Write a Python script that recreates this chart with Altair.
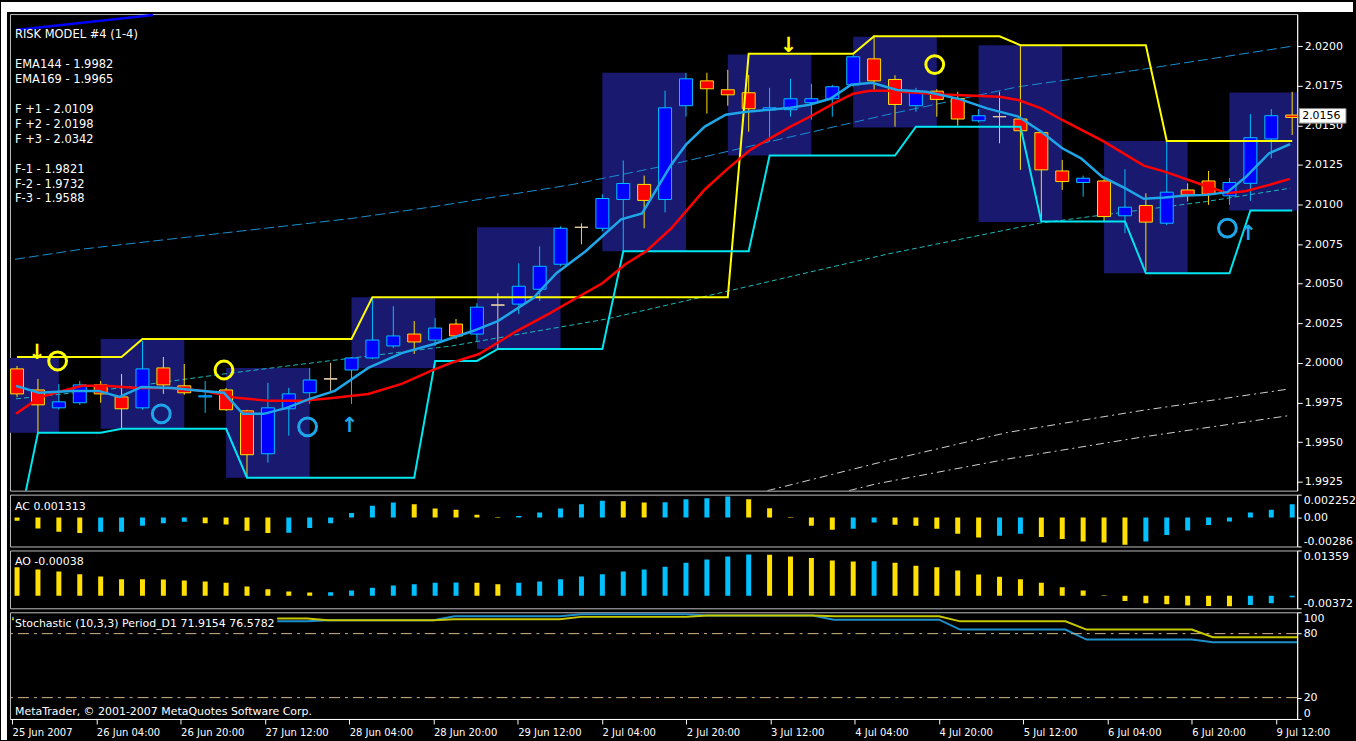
import json
import altair as alt
import pandas as pd

# ------------------------------------------------------------------ data
BARS = list(range(62))
OPEN = [1.99962, 1.99829, 1.99716, 1.99748, 1.99861, 1.99785, 1.99716, 1.99968, 1.99855, 1.99785,
        1.99829, 1.99697, 1.99426, 1.99710, 1.99811, 1.99899, 1.99955, 2.00031, 2.00107, 2.00182,
        2.00144, 2.00245, 2.00182, 2.00365, 2.00371, 2.00465, 2.00623, 2.00856, 2.00850, 2.01032,
        2.01127, 2.01032, 2.01624, 2.01781, 2.01725, 2.01706, 2.01599, 2.01599, 2.01643, 2.01668,
        2.01756, 2.01920, 2.01790, 2.01624, 2.01716, 2.01670, 2.01529, 2.01555, 2.01540, 2.01454,
        2.01212, 2.01139, 2.01149, 2.00929, 2.00994, 2.00882, 2.01092, 2.01149, 2.01055, 2.01134,
        2.01414, 2.01565]
HIGH = [1.99981, 1.99899, 1.99867, 1.99886, 1.99886, 1.99930, 2.00138, 2.00037, 1.99993, 1.99886,
        1.99842, 1.99704, 1.99874, 1.99842, 1.99968, 2.00000, 2.00035, 2.00415, 2.00358, 2.00264,
        2.00283, 2.00277, 2.00377, 2.00440, 2.00629, 2.00736, 2.00862, 2.00881, 2.01064, 2.01278,
        2.01183, 2.01719, 2.01832, 2.01832, 2.01851, 2.01819, 2.01737, 2.01794, 2.01763, 2.01756,
        2.01945, 2.02059, 2.01817, 2.01737, 2.01729, 2.01712, 2.01603, 2.01712, 2.02006, 2.01460,
        2.01282, 2.01183, 2.01160, 2.01223, 2.01071, 2.01408, 2.01134, 2.01212, 2.01166, 2.01571,
        2.01603, 2.01712]
LOW = [1.99785, 1.99559, 1.99704, 1.99735, 1.99748, 1.99584, 1.99704, 1.99804, 1.99798, 1.99685,
       1.99697, 1.99275, 1.99370, 1.99540, 1.99741, 1.99823, 1.99741, 2.00024, 2.00094, 2.00056,
       2.00107, 2.00151, 2.00138, 2.00088, 2.00308, 2.00390, 2.00610, 2.00749, 2.00831, 2.00705,
       2.00850, 2.00950, 2.01555, 2.01574, 2.01624, 2.01460, 2.01397, 2.01555, 2.01536, 2.01555,
       2.01744, 2.01725, 2.01492, 2.01586, 2.01555, 2.01498, 2.01519, 2.01387, 2.01219, 2.00893,
       2.01092, 2.01050, 2.00893, 2.00819, 2.00580, 2.00870, 2.01019, 2.00998, 2.00998, 2.01023,
       2.01292, 2.01439]
CLOSE = [1.99804, 1.99735, 1.99754, 1.99861, 1.99804, 1.99710, 1.99962, 1.99861, 1.99811, 1.99792,
         1.99704, 1.99420, 1.99716, 1.99804, 1.99892, 1.99899, 2.00031, 2.00144, 2.00170, 2.00132,
         2.00220, 2.00170, 2.00352, 2.00365, 2.00484, 2.00610, 2.00850, 2.00856, 2.01038, 2.01133,
         2.01026, 2.01611, 2.01794, 2.01731, 2.01693, 2.01605, 2.01611, 2.01668, 2.01668, 2.01744,
         2.01933, 2.01781, 2.01632, 2.01712, 2.01664, 2.01540, 2.01561, 2.01555, 2.01466, 2.01219,
         2.01145, 2.01166, 2.00924, 2.00983, 2.00889, 2.01078, 2.01061, 2.01065, 2.01139, 2.01422,
         2.01561, 2.01550]

BOX_START = [-2, 4, 10, 16, 22, 28, 34, 40, 46, 52, 58]
BOX_END = [2, 8, 14, 20, 26, 32, 38, 44, 50, 56, 62]
BOX_TOP = [2.00030, 2.00151, 1.99968, 2.00415, 2.00856, 2.01832, 2.01948, 2.02059, 2.02006, 2.01401, 2.01708]
BOX_BOTTOM = [1.99559, 1.99584, 1.99275, 1.99968, 2.00088, 2.00705, 2.01309, 2.01487, 2.00889, 2.00566, 2.00962]

# upper (yellow) and lower (cyan) channel, one value per bar
UPPER_CH = [2.00037, 2.00037, 2.00037, 2.00037, 2.00037, 2.00037,
            2.00151, 2.00151, 2.00151, 2.00151, 2.00151, 2.00151, 2.00151, 2.00151, 2.00151, 2.00151, 2.00151,
            2.00415, 2.00415, 2.00415, 2.00415, 2.00415, 2.00415, 2.00415, 2.00415, 2.00415, 2.00415,
            2.00415, 2.00415, 2.00415, 2.00415, 2.00415, 2.00415, 2.00415, 2.00415,
            2.01952, 2.01952, 2.01952, 2.01952, 2.01952, 2.01952,
            2.02063, 2.02063, 2.02063, 2.02063, 2.02063, 2.02063, 2.02063,
            2.02006, 2.02006, 2.02006, 2.02006, 2.02006, 2.02006, 2.02006,
            2.01401, 2.01401, 2.01401, 2.01401, 2.01401, 2.01401, 2.01401]
LOWER_CH = [1.98923,
            1.99559, 1.99559, 1.99559, 1.99559,
            1.99584, 1.99584, 1.99584, 1.99584, 1.99584, 1.99584,
            1.99275, 1.99275, 1.99275, 1.99275, 1.99275, 1.99275, 1.99275, 1.99275, 1.99275,
            2.00012, 2.00012, 2.00012,
            2.00088, 2.00088, 2.00088, 2.00088, 2.00088, 2.00088,
            2.00705, 2.00705, 2.00705, 2.00705, 2.00705, 2.00705, 2.00705,
            2.01309, 2.01309, 2.01309, 2.01309, 2.01309, 2.01309, 2.01309,
            2.01492, 2.01492, 2.01492, 2.01492, 2.01492, 2.01492,
            2.00893, 2.00893, 2.00893, 2.00893, 2.00893,
            2.00566, 2.00566, 2.00566, 2.00566, 2.00566,
            2.00962, 2.00962, 2.00962]

FAST_BAR = [-0.05, 1.04, 2.65, 3.9, 4.9, 5.96, 7.4, 8.9, 9.9, 10.8, 11.8, 12.9, 14.0, 15.2, 16.8, 18.4,
            19.95, 21.8, 23.0, 24.7, 25.8, 27.2, 28.9, 29.9, 31.3, 32.0, 32.9, 33.9, 34.9, 36.0, 37.0,
            37.9, 38.9, 39.9, 40.9, 42.1, 43.5, 45.1, 46.4, 47.9, 49.0, 50.0, 50.9, 51.9, 53.0, 53.9,
            54.9, 55.9, 56.9, 57.9, 58.8, 59.9, 60.9]
FAST_VAL = [1.99855, 1.99811, 1.99823, 1.99823, 1.99785, 1.99848, 1.99842, 1.99823, 1.99811, 1.99678,
            1.99678, 1.99716, 1.99773, 1.99823, 1.99968, 2.00062, 2.00119, 2.00201, 2.00264, 2.00409,
            2.00566, 2.00705, 2.00906, 2.00944, 2.01253, 2.01378, 2.01492, 2.01567, 2.01586, 2.01599,
            2.01611, 2.01630, 2.01668, 2.01756, 2.01769, 2.01723, 2.01712, 2.01666, 2.01607, 2.01555,
            2.01460, 2.01355, 2.01292, 2.01176, 2.01103, 2.01036, 2.01044, 2.01057, 2.01061, 2.01078,
            2.01176, 2.01324, 2.01382]
SLOW_BAR = [-0.05, 1.04, 1.84, 3.12, 4.2, 5.77, 7.38, 8.94, 10.5, 12.1, 13.66, 15.2, 16.8, 18.4, 19.8,
            20.76, 22.1, 23.9, 25.5, 26.9, 28.0, 29.1, 30.1, 31.3, 32.9, 34.0, 35.1, 36.0, 37.0, 38.1,
            39.05, 40.0, 40.8, 41.6, 44.3, 47.0, 47.9, 49.0, 50.0, 52.0, 53.9, 54.9, 56.8, 57.9, 58.8,
            59.9, 60.9]
SLOW_VAL = [1.99678, 1.99779, 1.99811, 1.99855, 1.99855, 1.99842, 1.99842, 1.99823, 1.99779, 1.99760,
            1.99760, 1.99779, 1.99804, 1.99867, 1.99949, 2.00000, 2.00056, 2.00201, 2.00314, 2.00421,
            2.00503, 2.00623, 2.00705, 2.00850, 2.01095, 2.01227, 2.01347, 2.01416, 2.01492, 2.01567,
            2.01637, 2.01700, 2.01719, 2.01719, 2.01695, 2.01681, 2.01660, 2.01607, 2.01534, 2.01397,
            2.01246, 2.01208, 2.01120, 2.01071, 2.01086, 2.01124, 2.01162]
LONG_BAR = [-0.1, 3.1, 16.0, 20.3, 26.6, 31.3, 36.0, 41.6, 47.9, 54.1, 61.0]
LONG_VAL = [2.00654, 2.00718, 2.00912, 2.00994, 2.01127, 2.01253, 2.01397, 2.01567, 2.01744, 2.01859, 2.02000]
DOT_BAR = [-0.05, 5.0, 9.9, 13.7, 16.8, 20.8, 28.2, 34.0, 41.6, 48.9, 56.9, 60.9]
DOT_VAL = [1.99773, 1.99842, 1.99930, 1.99993, 2.00043, 2.00107, 2.00277, 2.00453, 2.00686, 2.00882, 2.01019, 2.01103]
EMA144_BAR = [35.9, 41.6, 47.4, 53.7, 60.8]
EMA144_VAL = [1.99193, 1.99382, 1.99561, 1.99697, 1.99834]
EMA169_BAR = [39.8, 41.1, 47.4, 53.7, 60.8]
EMA169_VAL = [1.99193, 1.99236, 1.99393, 1.99529, 1.99666]
TOPLINE_BAR = [-0.05, 6.5]
TOPLINE_VAL = [2.02103, 2.02197]

CIRCLE_BAR = [1.94, 6.9, 9.9, 13.9, 43.9, 57.9]
CIRCLE_VAL = [2.00012, 1.99678, 1.99955, 1.99596, 2.01884, 2.00851]
CIRCLE_COL = ["y", "c", "y", "c", "y", "c"]
ARROW_BAR = [0.95, 15.9, 36.9, 58.9]
ARROW_VAL = [2.00062, 1.99600, 2.01999, 2.00811]
ARROW_DIR = ["down", "up", "down", "up"]

LAST_PRICE = 2.0156
PRICE_TICKS = [1.9925, 1.9950, 1.9975, 2.0000, 2.0025, 2.0050, 2.0075, 2.0100, 2.0125, 2.0150, 2.0175, 2.0200]
INFO_ROW = [0, 2, 3, 5, 6, 7, 9, 10, 11]
INFO_TEXT = ["RISK MODEL #4 (1-4)", "EMA144 - 1.9982", "EMA169 - 1.9965",
             "F +1 - 2.0109", "F +2 - 2.0198", "F +3 - 2.0342",
             "F-1 - 1.9821", "F-2 - 1.9732", "F-3 - 1.9588"]

AC_VALS = [-0.00033, -0.00108, -0.00141, -0.00154, -0.00141, -0.00140, -0.00082, -0.00056, -0.00043, -0.00056,
           -0.00069, -0.00131, -0.00154, -0.00150, -0.00105, -0.00056, 0.00043, 0.00115, 0.00147, 0.00131,
           0.00088, 0.00075, 0.00026, -0.00005, 0.00015, 0.00049, 0.00088, 0.00131, 0.00164, 0.00160,
           0.00147, 0.00150, 0.00180, 0.00190, 0.00206, 0.00180, 0.00092, -0.00005, -0.00082, -0.00121,
           -0.00111, -0.00049, -0.00072, -0.00082, -0.00111, -0.00160, -0.00197, -0.00180, -0.00160, -0.00193,
           -0.00213, -0.00236, -0.00246, -0.00269, -0.00236, -0.00174, -0.00128, -0.00075, -0.00039, 0.00049,
           0.00075, 0.001313]
AC_COL = ["y", "y", "y", "y", "b", "b", "b", "b", "b", "y", "y", "y", "y", "b", "b", "b", "b", "b", "b", "y",
          "y", "y", "y", "y", "b", "b", "b", "b", "b", "y", "y", "b", "b", "b", "b", "y", "y", "y", "y", "y",
          "b", "b", "y", "y", "y", "y", "y", "b", "b", "y", "y", "y", "y", "y", "b", "b", "b", "b", "b", "b",
          "b", "b"]
AO_VALS = [0.0086, 0.0079, 0.0073, 0.0065, 0.0058, 0.0050, 0.0050, 0.0049, 0.0046, 0.0043,
           0.0039, 0.0028, 0.0020, 0.0013, 0.0010, 0.0011, 0.0016, 0.0024, 0.0031, 0.0035,
           0.0039, 0.0040, 0.0039, 0.0035, 0.0039, 0.0043, 0.0050, 0.0058, 0.0065, 0.0073,
           0.0079, 0.0087, 0.0099, 0.0109, 0.0118, 0.0124, 0.0123, 0.0118, 0.0113, 0.0106,
           0.0103, 0.0104, 0.0099, 0.0090, 0.0086, 0.0076, 0.0064, 0.0057, 0.0050, 0.0039,
           0.0026, 0.0016, 0.0002, -0.0015, -0.0022, -0.0025, -0.0029, -0.0030, -0.0031, -0.0027,
           -0.0022, -0.00038]
AO_COL = ["y", "y", "y", "y", "y", "y", "y", "y", "y", "y", "y", "y", "y", "y", "y", "b", "b", "b", "b", "b",
          "b", "b", "y", "y", "b", "b", "b", "b", "b", "b", "b", "b", "b", "b", "b", "b", "y", "y", "y", "y",
          "y", "b", "y", "y", "y", "y", "y", "y", "y", "y", "y", "y", "y", "y", "y", "y", "y", "y", "y", "b",
          "b", "b"]
STOCH_MAIN = [95.0, 95.0, 95.0, 93.5, 93.5, 93.5, 93.5, 93.5, 93.5, 91.5, 91.5, 91.5, 91.5, 91.5, 91.5,
              92.5, 92.5, 92.5, 92.5, 92.5, 92.5, 96.2, 96.2, 96.2, 96.2, 96.2, 96.2,
              98.1, 98.1, 98.1, 98.1, 98.1, 98.1, 96.9, 96.9, 96.9, 96.9, 96.9, 96.9,
              93.1, 93.1, 93.1, 93.1, 93.1, 93.1, 83.8, 83.8, 83.8, 83.8, 83.8, 83.8,
              74.4, 74.4, 74.4, 74.4, 74.4, 74.4, 71.9154, 71.9154, 71.9154, 71.9154, 71.9154]
STOCH_SIGNAL = [93.4, 93.4, 93.4, 93.0, 93.0, 93.0, 93.0, 93.0, 93.0, 94.1, 94.1, 94.1, 94.1, 94.1, 94.1,
                92.5, 92.5, 92.5, 92.5, 92.5, 92.5, 93.4, 93.4, 93.4, 93.4, 93.4, 93.4,
                95.7, 95.7, 95.7, 95.7, 95.7, 95.7, 96.9, 96.9, 96.9, 96.9, 96.9, 96.9,
                96.2, 96.2, 96.2, 96.2, 96.2, 96.2, 91.5, 91.5, 91.5, 91.5, 91.5, 91.5,
                83.8, 83.8, 83.8, 83.8, 83.8, 83.8, 76.5782, 76.5782, 76.5782, 76.5782, 76.5782]
STOCH_LEVELS = [80, 20]
STOCH_TICKS = [0, 20, 80, 100]

X_TICK_BARS = [0, 4, 8, 12, 16, 20, 24, 28, 32, 36, 40, 44, 48, 52, 56, 60]
X_LABELS = ["25 Jun 2007", "26 Jun 04:00", "26 Jun 20:00", "27 Jun 12:00", "28 Jun 04:00",
            "28 Jun 20:00", "29 Jun 12:00", "2 Jul 04:00", "2 Jul 20:00", "3 Jul 12:00",
            "4 Jul 04:00", "4 Jul 20:00", "5 Jul 12:00", "6 Jul 04:00", "6 Jul 20:00", "9 Jul 12:00"]

AC_DOM = [-0.00286, 0.002252]
AC_TICK_TEXT = ["-0.00286", "0.00", "0.002252"]
AO_DOM = [-0.00372, 0.01359]
AO_TICK_TEXT = ["-0.00372", "0.01359"]

# ------------------------------------------------------------------ style
W = 1291
H_MAIN, H_AC, H_AO, H_ST = 478, 52, 58, 107
XDOM = [-0.1, 61.0]
PDOM = [1.99193, 2.02203]
FONT = "DejaVu Sans"
YEL = "#ffff00"
SKY = "#1ea6e8"
AQUA = "#00e6f0"
RED = "#ff0000"
BOX_COLOR = "#191970"
BULL_FILL, BEAR_FILL, DOJI = "#0000ff", "#ff0000", "#e0c8a8"
BULL_EDGE, BEAR_EDGE = "#00c0ff", "#ffe000"
HIST_BLUE = "#12a8e8"
KINDS = ["bull", "bear", "doji"]
AXIS_STYLE = dict(labelColor="white", tickColor="white", domainColor="white", labelFont=FONT,
                  labelFontSize=11, grid=False, title=None, labelOverlap=False)
U = alt.Undefined


def xs():
    return alt.Scale(domain=XDOM, nice=False, zero=False)


def ps():
    return alt.Scale(domain=PDOM, nice=False, zero=False)


def X(field="bar", axis=None):
    return alt.X(f"{field}:Q", scale=xs(), axis=axis, title=None)


def PY(field, axis=U):
    return alt.Y(f"{field}:Q", scale=ps(), axis=axis, title=None)


one = pd.DataFrame({"k": [0]})


def line(bars, vals, color, width, dash=None):
    df = pd.DataFrame({"bar": bars, "v": vals})
    kw = dict(color=color, strokeWidth=width, clip=True)
    if dash:
        kw["strokeDash"] = dash
    return alt.Chart(df).mark_line(**kw).encode(x=X(), y=PY("v"))


def label(text, x, y, size=11, color="white"):
    return alt.Chart(one).mark_text(align="left", baseline="middle", color=color, font=FONT,
                                    fontSize=size).encode(x=alt.value(x), y=alt.value(y), text=alt.value(text))


# ------------------------------------------------------------------ main panel
price_axis = alt.Axis(orient="right", values=PRICE_TICKS, format=".4f", tickSize=5,
                      labelPadding=2, labelFlush=False, **AXIS_STYLE)

strip_top = alt.Chart(one).mark_rect(fill="white").encode(
    x=alt.value(-9), x2=alt.value(1347), y=alt.value(-12), y2=alt.value(-2))
strip_left = alt.Chart(one).mark_rect(fill="white").encode(
    x=alt.value(-9), x2=alt.value(-3), y=alt.value(-12), y2=alt.value(728))

bdf = pd.DataFrame({"s": BOX_START, "e": BOX_END, "t": BOX_TOP, "b": BOX_BOTTOM})
boxes = alt.Chart(bdf).mark_rect(color=BOX_COLOR, clip=True).encode(
    x=X("s"), x2="e", y=PY("t", axis=price_axis), y2="b")

cdf = pd.DataFrame({"bar": BARS, "open": OPEN, "high": HIGH, "low": LOW, "close": CLOSE})
cdf["kind"] = ["bull" if c > o else ("bear" if c < o else "doji") for o, c in zip(OPEN, CLOSE)]

wicks = alt.Chart(cdf).mark_rule(clip=True, strokeWidth=1).encode(
    x=X(), y=PY("low"), y2="high",
    color=alt.Color("kind:N", scale=alt.Scale(domain=KINDS, range=[BULL_EDGE, BEAR_EDGE, DOJI]), legend=None))
bodies = alt.Chart(cdf).mark_bar(size=13, clip=True, strokeWidth=1).encode(
    x=X(), y=PY("open"), y2="close",
    fill=alt.Fill("kind:N", scale=alt.Scale(domain=KINDS, range=[BULL_FILL, BEAR_FILL, DOJI]), legend=None),
    stroke=alt.Stroke("kind:N", scale=alt.Scale(domain=KINDS, range=[BULL_EDGE, BEAR_EDGE, DOJI]), legend=None))
doji_h = alt.Chart(cdf).transform_filter("datum.kind == 'doji'").transform_calculate(
    a="datum.bar - 0.32", b="datum.bar + 0.32").mark_rule(color=DOJI, strokeWidth=1, clip=True).encode(
    x=X("a"), x2="b", y=PY("open"))

ch_df = pd.DataFrame({"bar": BARS, "u": UPPER_CH, "l": LOWER_CH})
upper = alt.Chart(ch_df).mark_line(color=YEL, strokeWidth=2, clip=True).encode(x=X(), y=PY("u"))
lower = alt.Chart(ch_df).mark_line(color=AQUA, strokeWidth=2, clip=True).encode(x=X(), y=PY("l"))

long_line = line(LONG_BAR, LONG_VAL, "#1a8fd0", 1, [10, 4])
dot_line = line(DOT_BAR, DOT_VAL, "#20b8b8", 1, [5, 3])
e144 = line(EMA144_BAR, EMA144_VAL, "#d0d0d0", 1, [8, 4, 2, 4])
e169 = line(EMA169_BAR, EMA169_VAL, "#d0d0d0", 1, [8, 4, 2, 4])
slow = line(SLOW_BAR, SLOW_VAL, RED, 2.5)
fast = line(FAST_BAR, FAST_VAL, SKY, 2.5)
topline = line(TOPLINE_BAR, TOPLINE_VAL, "#0000ff", 2.5)

circ_df = pd.DataFrame({"bar": CIRCLE_BAR, "v": CIRCLE_VAL, "c": CIRCLE_COL})
circ_y = alt.Chart(circ_df).transform_filter("datum.c == 'y'").mark_point(
    shape="circle", filled=False, size=320, strokeWidth=3, opacity=1, color=YEL, clip=True).encode(
    x=X(), y=PY("v"))
circ_c = alt.Chart(circ_df).transform_filter("datum.c == 'c'").mark_point(
    shape="circle", filled=False, size=320, strokeWidth=3, opacity=1, color=SKY, clip=True).encode(
    x=X(), y=PY("v"))

arr_df = pd.DataFrame({"bar": ARROW_BAR, "v": ARROW_VAL, "d": ARROW_DIR})
arr_df["g"] = ["\u2193" if d == "down" else "\u2191" for d in ARROW_DIR]
arr_dn = alt.Chart(arr_df).transform_filter("datum.d == 'down'").mark_text(
    font=FONT, fontSize=21, fontWeight="bold", color=YEL, baseline="middle").encode(
    x=X(), y=PY("v"), text="g:N")
arr_up = alt.Chart(arr_df).transform_filter("datum.d == 'up'").mark_text(
    font=FONT, fontSize=21, fontWeight="bold", color=SKY, baseline="middle").encode(
    x=X(), y=PY("v"), text="g:N")

info = [label(t, 5, 21 + 15 * r, size=11.5) for r, t in zip(INFO_ROW, INFO_TEXT)]

lp = pd.DataFrame({"p": [LAST_PRICE]})
lbl_rect = alt.Chart(lp).transform_calculate(lo="datum.p - 0.00046", hi="datum.p + 0.00046").mark_rect(
    fill="white", stroke="#808080", strokeWidth=1).encode(
    x=alt.value(W + 2), x2=alt.value(W + 49), y=PY("lo"), y2="hi")
lbl_text = alt.Chart(lp).mark_text(align="left", baseline="middle", color="black", font=FONT,
                                   fontSize=11).encode(
    x=alt.value(W + 5), y=PY("p"), text=alt.value(f"{LAST_PRICE:.4f}"))

main = alt.layer(strip_top, strip_left, boxes, long_line, dot_line, e144, e169, wicks, bodies,
                 doji_h, upper, lower, slow, fast, topline, circ_y, circ_c, arr_dn, arr_up, *info,
                 lbl_rect, lbl_text).properties(width=W, height=H_MAIN)

# ------------------------------------------------------------------ AC panel
acdf = pd.DataFrame({"bar": BARS, "v": AC_VALS, "c": AC_COL})
ac_scale = alt.Scale(domain=AC_DOM, nice=False, zero=False)
ac_expr = (f"datum.value > 0.001 ? '{AC_TICK_TEXT[2]}' : "
           f"(datum.value < -0.001 ? '{AC_TICK_TEXT[0]}' : '{AC_TICK_TEXT[1]}')")
ac_axis = alt.Axis(orient="right", values=[AC_DOM[0], 0, AC_DOM[1]], labelExpr=ac_expr,
                   labelFlush=True, tickSize=4, labelPadding=2, **AXIS_STYLE)
ac_bars = alt.Chart(acdf).mark_bar(size=5, clip=True).encode(
    x=X(), y=alt.Y("v:Q", scale=ac_scale, axis=ac_axis, title=None), y2=alt.datum(0),
    color=alt.Color("c:N", scale=alt.Scale(domain=["b", "y"], range=[HIST_BLUE, YEL]), legend=None))
ac = alt.layer(ac_bars, label(f"AC {AC_VALS[-1]:.6f}", 5, 12)).properties(width=W, height=H_AC)

# ------------------------------------------------------------------ AO panel
aodf = pd.DataFrame({"bar": BARS, "v": AO_VALS, "c": AO_COL})
ao_scale = alt.Scale(domain=AO_DOM, nice=False, zero=False)
ao_expr = f"datum.value > 0 ? '{AO_TICK_TEXT[1]}' : '{AO_TICK_TEXT[0]}'"
ao_axis = alt.Axis(orient="right", values=AO_DOM, labelExpr=ao_expr,
                   labelFlush=True, tickSize=4, labelPadding=2, **AXIS_STYLE)
ao_bars = alt.Chart(aodf).mark_bar(size=5, clip=True).encode(
    x=X(), y=alt.Y("v:Q", scale=ao_scale, axis=ao_axis, title=None), y2=alt.datum(0),
    color=alt.Color("c:N", scale=alt.Scale(domain=["b", "y"], range=[HIST_BLUE, YEL]), legend=None))
ao = alt.layer(ao_bars, label(f"AO {AO_VALS[-1]:.5f}", 5, 12)).properties(width=W, height=H_AO)

# ------------------------------------------------------------------ Stochastic panel
x_expr = json.dumps(X_LABELS) + "[round(datum.value / 4)]"
x_axis = alt.Axis(values=X_TICK_BARS, labelExpr=x_expr, labelAlign="left", labelOffset=0,
                  labelFlush=False, labelOverlap=False, tickSize=5, labelPadding=4,
                  labelColor="white", tickColor="white", domainColor="white", labelFont=FONT,
                  labelFontSize=10, grid=False, title=None)
sdf = pd.DataFrame({"bar": BARS, "m": STOCH_MAIN, "s": STOCH_SIGNAL})
st_scale = alt.Scale(domain=[0, 100], nice=False, zero=False)
st_axis = alt.Axis(orient="right", values=STOCH_TICKS, labelExpr="format(datum.value, 'd')",
                   labelFlush=True, tickSize=4, labelPadding=2, **AXIS_STYLE)
lv = pd.DataFrame({"lv": STOCH_LEVELS})
st_main = alt.Chart(sdf).mark_line(color="#1f8fc9", strokeWidth=2, clip=True).encode(
    x=X(axis=x_axis), y=alt.Y("m:Q", scale=st_scale, axis=st_axis, title=None))
st_sig = alt.Chart(sdf).mark_line(color="#c8c800", strokeWidth=2, clip=True).encode(
    x=X(axis=x_axis), y=alt.Y("s:Q", scale=st_scale, axis=st_axis, title=None))
st_levels = alt.Chart(lv).mark_rule(color="#d2b48c", strokeWidth=1, strokeDash=[11, 5, 3, 5]).encode(
    y=alt.Y("lv:Q", scale=st_scale, axis=st_axis, title=None))
st_bg = alt.Chart(one).mark_rect(fill="black").encode(
    x=alt.value(4), x2=alt.value(268), y=alt.value(4), y2=alt.value(19))
st_txt = label(f"Stochastic (10,3,3) Period_D1 {STOCH_MAIN[-1]:.4f} {STOCH_SIGNAL[-1]:.4f}", 5, 12)
mt_txt = label("MetaTrader, \u00a9 2001-2007 MetaQuotes Software Corp.", 5, 100)
st = alt.layer(st_main, st_levels, st_sig, st_bg, st_txt, mt_txt).properties(width=W, height=H_ST)

chart = alt.vconcat(main, ac, ao, st, spacing=4, bounds="flush").properties(
    padding=0, background="black"
).configure_view(stroke="#bdbdbd", strokeWidth=1)

chart.save("out.html", embed_options={"renderer": "svg", "actions": False})
